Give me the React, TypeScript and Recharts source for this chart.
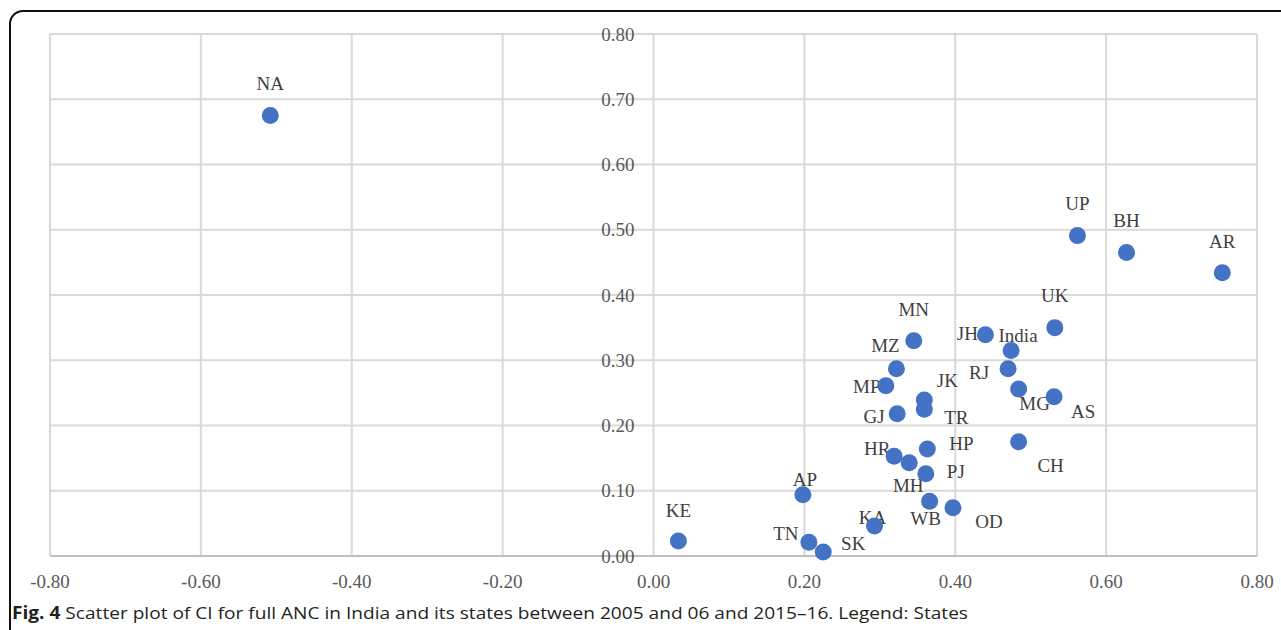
import { ScatterChart, Scatter, XAxis, YAxis, CartesianGrid } from "recharts";

const states = [
  "NA", "UP", "BH", "AR", "UK", "MN", "JH", "India", "MZ", "RJ", "MP", "MG", "AS", "JK",
  "TR", "GJ", "HR", "MH", "HP", "PJ", "WB", "OD", "CH", "AP", "KA", "TN", "SK", "KE",
];
const ciX = [
  -0.508, 0.562, 0.627, 0.754, 0.532, 0.345, 0.44, 0.474, 0.322, 0.47, 0.308, 0.484, 0.531, 0.359,
  0.359, 0.323, 0.319, 0.339, 0.363, 0.361, 0.366, 0.397, 0.484, 0.198, 0.293, 0.206, 0.225, 0.033,
];
const ciY = [
  0.675, 0.491, 0.465, 0.434, 0.35, 0.33, 0.339, 0.315, 0.287, 0.287, 0.261, 0.256, 0.244, 0.239,
  0.225, 0.218, 0.153, 0.143, 0.164, 0.126, 0.084, 0.074, 0.175, 0.094, 0.046, 0.021, 0.006, 0.023,
];
const xTicks = [-0.8, -0.6, -0.4, -0.2, 0, 0.2, 0.4, 0.6, 0.8];
const yTicks = [0, 0.1, 0.2, 0.3, 0.4, 0.5, 0.6, 0.7, 0.8];

// where each data label sits relative to its point (px)
const LABEL_OFFSET: Record<string, [number, number]> = {
  NA: [0, -32], UP: [0, -32], BH: [0, -32], AR: [0, -31], UK: [0, -32], MN: [0, -31],
  JH: [-18, -1], India: [7, -15], MZ: [-11, -23], RJ: [-29, 4], MP: [-19, 1], JK: [23, -20],
  MG: [16, 14], AS: [29, 15], TR: [32, 8], GJ: [-23, 3], HR: [-17, -8], HP: [34, -6],
  PJ: [30, -2], MH: [-1, 23], WB: [-4, 17], OD: [36, 14], CH: [32, 24], AP: [2, -15],
  KA: [-2, -9], TN: [-23, -9], SK: [30, -9], KE: [0, -31],
};

const W = 1281;
const H = 630;
const M = { top: 34, right: 24, bottom: 44, left: 49 };
const X_AXIS_H = 30;
const Y_AXIS_W = 1;
const plotLeft = M.left + Y_AXIS_W;
const zeroX = plotLeft + ((W - plotLeft - M.right) * 0.8) / 1.6;

const SERIF = "'Liberation Serif', 'Times New Roman', serif";
const BLUE = "#4472C4";

const data = states.map((s, i) => ({ name: s, x: ciX[i], y: ciY[i] }));

const renderYTick = (props: any) => (
  <text
    key={props.index}
    x={zeroX - 19}
    y={props.y}
    dy="0.35em"
    textAnchor="end"
    fontFamily={SERIF}
    fontSize={19}
    fill="#595959"
  >
    {Number(props.payload.value).toFixed(2)}
  </text>
);

const LabelShape = (props: any) => {
  const { cx, cy, payload } = props;
  const [dx, dy] = LABEL_OFFSET[payload.name] ?? [0, -30];
  return (
    <text
      x={cx + dx}
      y={cy + dy}
      dy="0.35em"
      textAnchor="middle"
      fontFamily={SERIF}
      fontSize={19}
      fill="#404040"
    >
      {payload.name}
    </text>
  );
};

const Dot = (props: any) => <circle cx={props.cx} cy={props.cy} r={8.5} fill={BLUE} />;

export default function App() {
  return (
    <div style={{ position: "absolute", left: 0, top: 0, width: W, height: H, overflow: "hidden", background: "#fff" }}>
      <div
        style={{
          position: "absolute",
          left: 9,
          top: 10,
          width: 1300,
          height: 700,
          border: "2px solid #111",
          borderRadius: 14,
        }}
      />
      <div style={{ position: "absolute", left: 0, top: 0 }}>
        <ScatterChart width={W} height={H} margin={M}>
          <CartesianGrid stroke="#d9d9d9" strokeWidth={2} horizontalValues={yTicks} verticalValues={xTicks} />
          <XAxis
            type="number"
            dataKey="x"
            domain={[-0.8, 0.8]}
            ticks={xTicks}
            height={X_AXIS_H}
            tickLine={false}
            tickSize={6}
            tickMargin={13}
            axisLine={{ stroke: "#bfbfbf", strokeWidth: 2 }}
            tick={{ fontFamily: SERIF, fontSize: 19, fill: "#595959" }}
            tickFormatter={(v: number) => v.toFixed(2)}
          />
          <YAxis
            type="number"
            dataKey="y"
            domain={[0, 0.8]}
            ticks={yTicks}
            width={Y_AXIS_W}
            interval={0}
            axisLine={false}
            tickLine={false}
            tick={renderYTick}
          />
          <Scatter data={data} shape={<LabelShape />} isAnimationActive={false} />
          <Scatter data={data} shape={<Dot />} fill={BLUE} isAnimationActive={false} />
        </ScatterChart>
      </div>
      <svg style={{ position: "absolute", left: 0, top: 596 }} width={W} height={34}>
        <text
          x={12}
          y={23}
          fontFamily="'Open Sans', 'Noto Sans', sans-serif"
          fontSize={17}
          fill="#231f20"
          textLength={956}
          lengthAdjust="spacingAndGlyphs"
        >
          <tspan fontWeight="bold">Fig. 4</tspan>
          <tspan> Scatter plot of CI for full ANC in India and its states between 2005 and 06 and 2015–16. Legend: States</tspan>
        </text>
      </svg>
    </div>
  );
}
